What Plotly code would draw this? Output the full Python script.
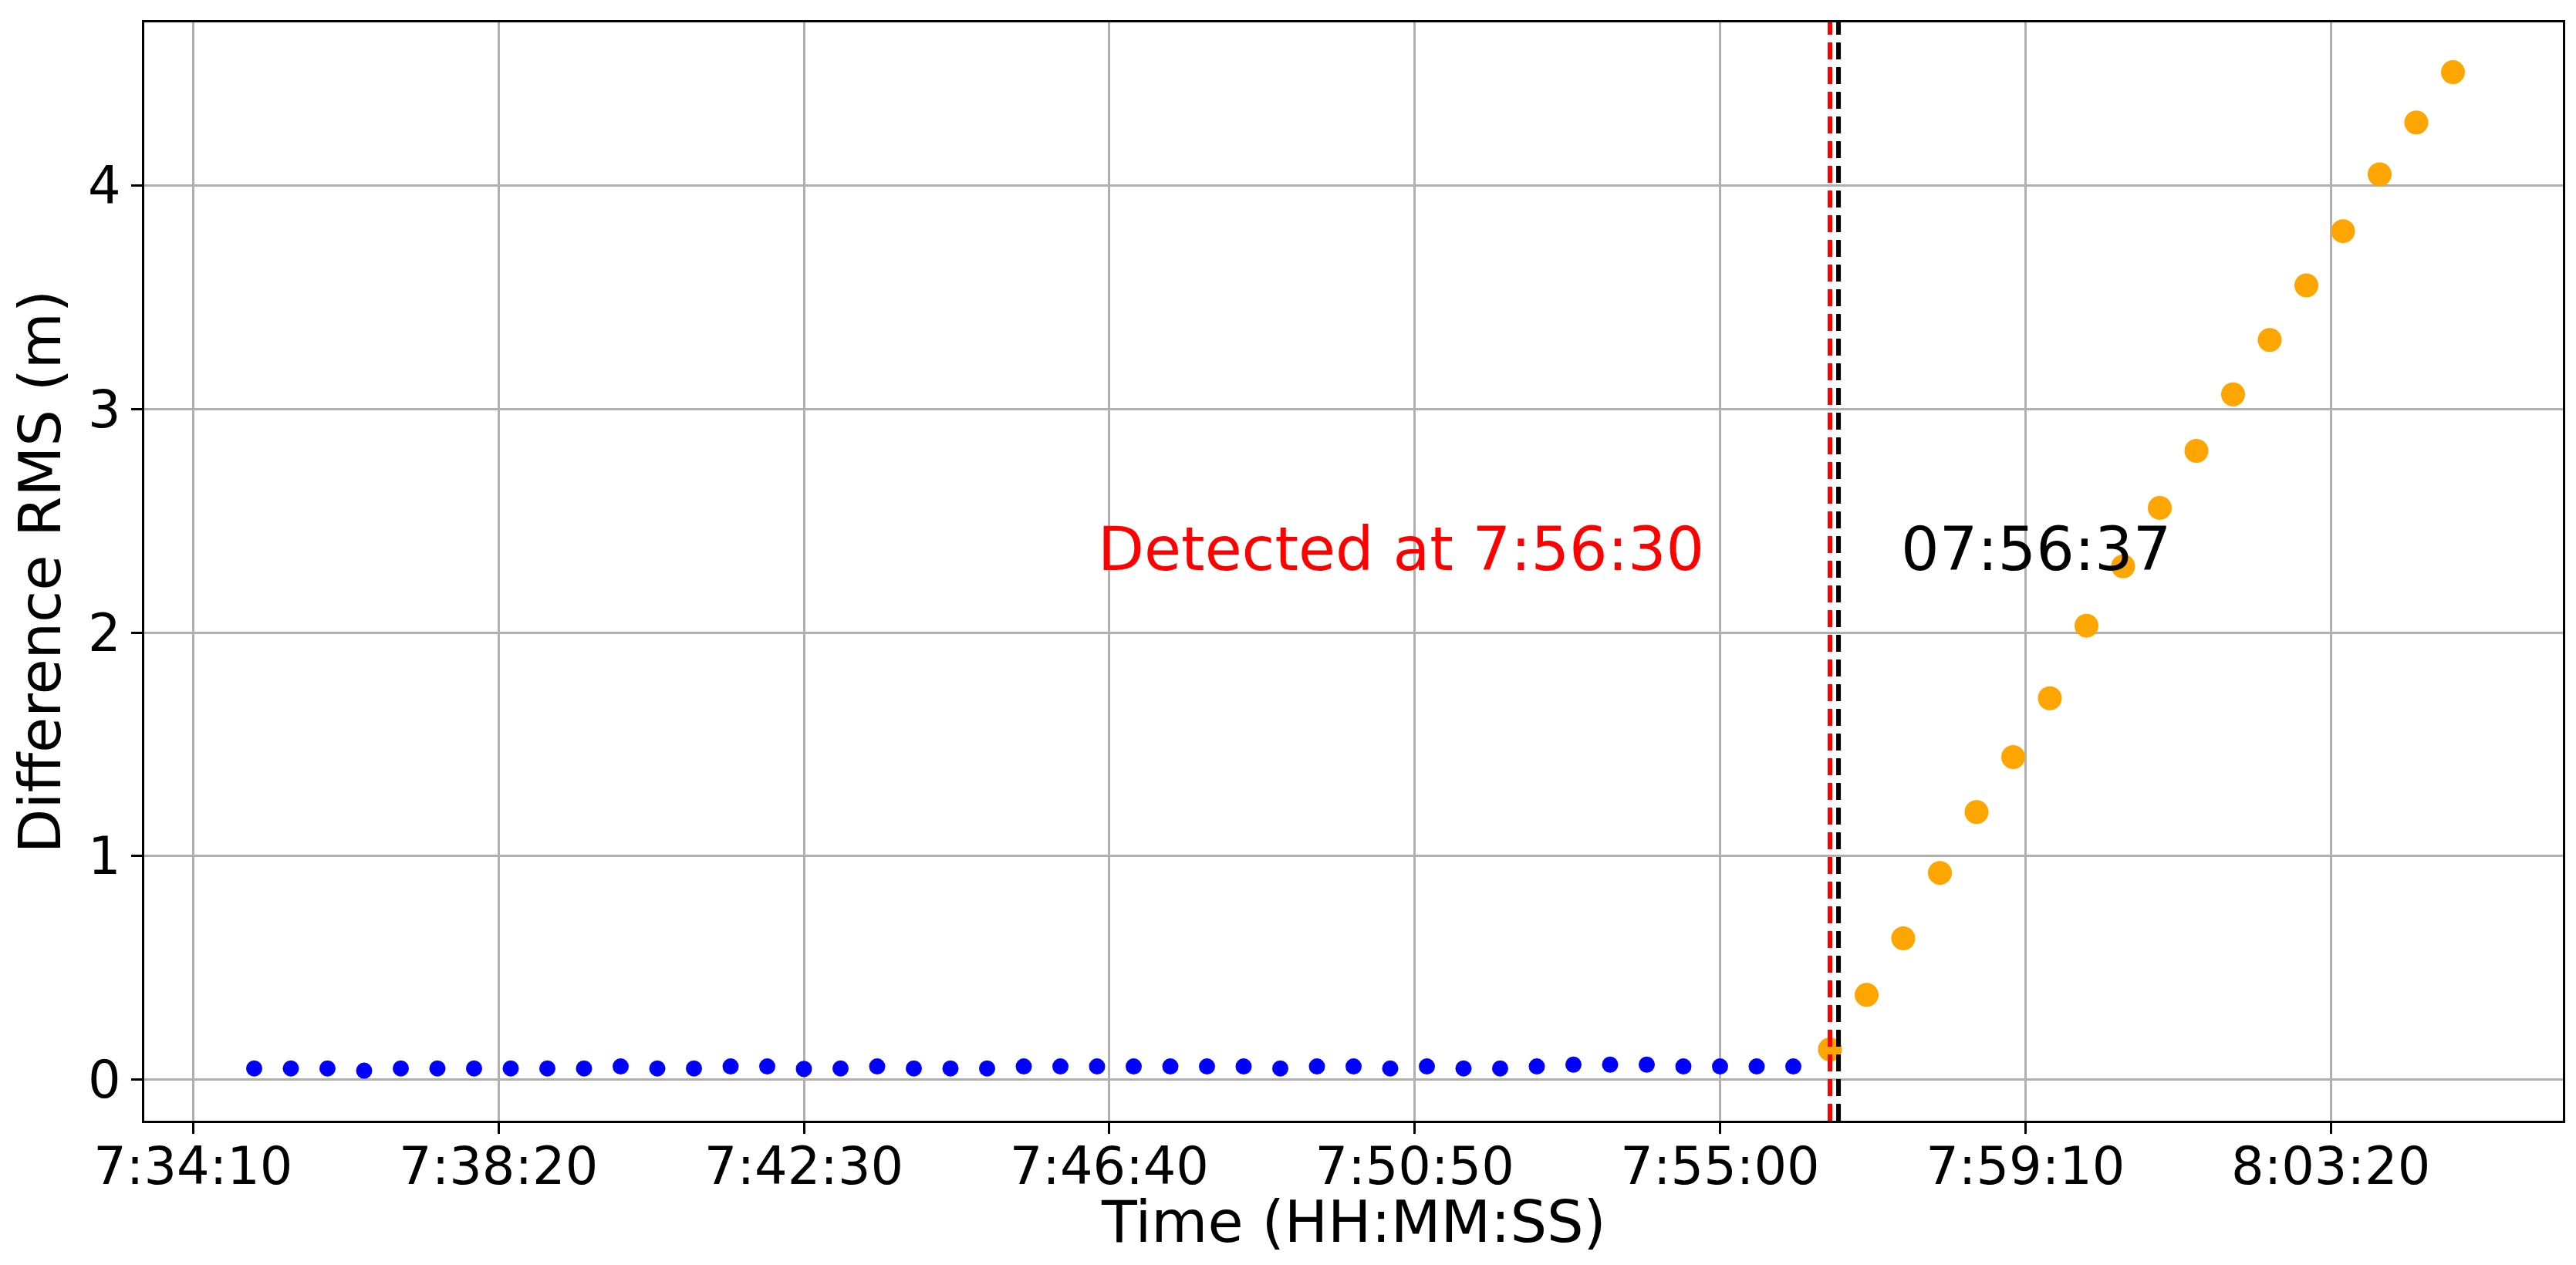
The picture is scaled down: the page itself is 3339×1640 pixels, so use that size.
import plotly.graph_objects as go

# ---- data ------------------------------------------------------------------
DAY = "2024-01-01 "

normal_times = [
    "07:35:00", "07:35:30", "07:36:00", "07:36:30", "07:37:00", "07:37:30",
    "07:38:00", "07:38:30", "07:39:00", "07:39:30", "07:40:00", "07:40:30",
    "07:41:00", "07:41:30", "07:42:00", "07:42:30", "07:43:00", "07:43:30",
    "07:44:00", "07:44:30", "07:45:00", "07:45:30", "07:46:00", "07:46:30",
    "07:47:00", "07:47:30", "07:48:00", "07:48:30", "07:49:00", "07:49:30",
    "07:50:00", "07:50:30", "07:51:00", "07:51:30", "07:52:00", "07:52:30",
    "07:53:00", "07:53:30", "07:54:00", "07:54:30", "07:55:00", "07:55:30",
    "07:56:00",
]
normal_rms = [
    0.050, 0.050, 0.050, 0.040, 0.050, 0.050, 0.050, 0.050, 0.050, 0.050,
    0.059, 0.050, 0.050, 0.059, 0.059, 0.048, 0.050, 0.059, 0.050, 0.050,
    0.050, 0.059, 0.059, 0.059, 0.059, 0.059, 0.059, 0.059, 0.050, 0.059,
    0.059, 0.050, 0.059, 0.050, 0.050, 0.059, 0.067, 0.067, 0.067, 0.059,
    0.059, 0.059, 0.059,
]

fault_times = [
    "07:56:30", "07:57:00", "07:57:30", "07:58:00", "07:58:30", "07:59:00",
    "07:59:30", "08:00:00", "08:00:30", "08:01:00", "08:01:30", "08:02:00",
    "08:02:30", "08:03:00", "08:03:30", "08:04:00", "08:04:30", "08:05:00",
]
fault_rms = [
    0.135, 0.379, 0.632, 0.925, 1.197, 1.443, 1.706, 2.031, 2.296,
    2.558, 2.813, 3.066, 3.309, 3.553, 3.796, 4.050, 4.282, 4.507,
]

tick_labels = ["7:34:10", "7:38:20", "7:42:30", "7:46:40",
               "7:50:50", "7:55:00", "7:59:10", "8:03:20"]

detected_at = "07:56:30"
true_onset = "07:56:37"

FONT = "DejaVu Sans"

fig = go.Figure()

fig.add_trace(go.Scatter(
    x=[DAY + t for t in normal_times],
    y=normal_rms,
    mode="markers",
    marker=dict(color="blue", size=21, line=dict(width=0)),
    showlegend=False,
))
fig.add_trace(go.Scatter(
    x=[DAY + t for t in fault_times],
    y=fault_rms,
    mode="markers",
    marker=dict(color="orange", size=31, line=dict(width=0)),
    showlegend=False,
))

# detection / true onset markers
for t, col in [(detected_at, "red"), (true_onset, "black")]:
    fig.add_shape(
        type="line", xref="x", yref="paper",
        x0=DAY + t, x1=DAY + t, y0=0, y1=1,
        line=dict(color=col, width=6, dash="22px,10px"),
        layer="above",
    )

fig.add_annotation(
    x=DAY + "07:54:48", y=2.372, xref="x", yref="y",
    text="Detected at " + detected_at.lstrip("0"), showarrow=False,
    xanchor="right", yanchor="middle",
    font=dict(family=FONT, size=78, color="red"),
)
fig.add_annotation(
    x=DAY + "07:57:27", y=2.372, xref="x", yref="y",
    text=true_onset, showarrow=False,
    xanchor="left", yanchor="middle",
    font=dict(family=FONT, size=78, color="black"),
)

# x-axis title placed by hand (plotly clamps it into the margin otherwise)
fig.add_annotation(
    x=0.5, y=-0.092, xref="paper", yref="paper",
    text="Time (HH:MM:SS)", showarrow=False,
    xanchor="center", yanchor="middle",
    font=dict(family=FONT, size=75, color="black"),
)

axis_common = dict(
    showline=True, linecolor="black", linewidth=3, mirror=True,
    showgrid=True, gridcolor="#b0b0b0", gridwidth=2.5,
    zeroline=False,
    ticks="outside", ticklen=14, tickwidth=3, tickcolor="black",
    tickfont=dict(family=FONT, size=67, color="black"),
)

# page body adds 8px on top/left, so the figure is drawn 8px smaller
fig.update_layout(
    width=3331, height=1632,
    margin=dict(l=179, r=17, t=21, b=187),
    paper_bgcolor="white", plot_bgcolor="white",
    font=dict(family=FONT, color="black"),
    showlegend=False,
    xaxis=dict(
        axis_common,
        type="date",
        range=[DAY + "07:33:30", DAY + "08:06:30"],
        tickvals=[DAY + "0" + t for t in tick_labels],
        ticktext=tick_labels,
        ticklabelstandoff=-15,
        automargin=False,
    ),
    yaxis=dict(
        axis_common,
        range=[-0.184, 4.73],
        tickvals=[0, 1, 2, 3, 4],
        title=dict(text="Difference RMS (m)", standoff=16,
                   font=dict(family=FONT, size=75, color="black")),
        automargin=False,
    ),
)

fig.write_html("out.html")
